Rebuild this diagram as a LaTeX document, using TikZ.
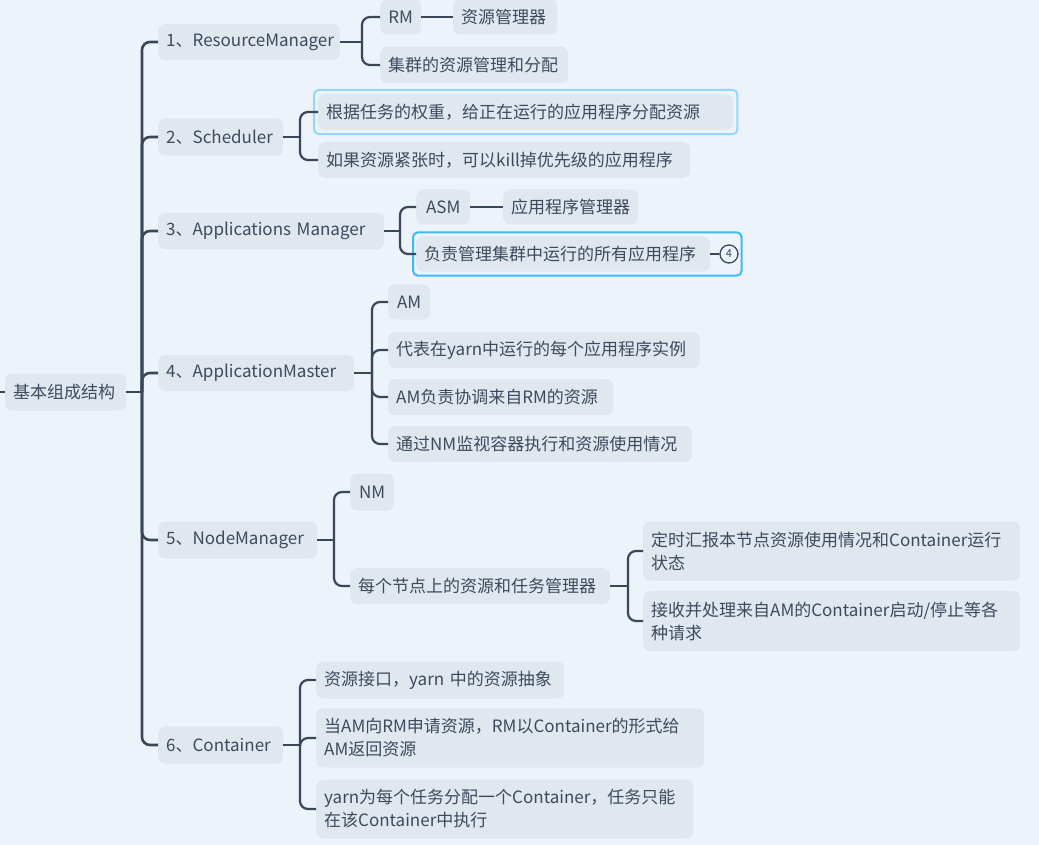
\documentclass[tikz,border=0pt]{standalone}
\usepackage{fontspec}
\setmainfont{Noto Sans CJK SC}
\usetikzlibrary{fit}
\definecolor{bg}{HTML}{EDF3FA}
\definecolor{nodefill}{HTML}{E1E7EF}
\definecolor{txt}{HTML}{3C4A5C}
\definecolor{ln}{HTML}{3A475A}
\definecolor{hlA}{HTML}{93D7FD}
\definecolor{hlB}{HTML}{3DBAF7}
\begin{document}
\begin{tikzpicture}[x=1pt,y=-1pt,
  box/.style={rectangle, rounded corners=7pt, fill=nodefill, text=txt, anchor=west,
    inner xsep=8pt, inner ysep=0pt, align=left, font=\fontsize{17}{23}\selectfont},
  conn/.style={draw=ln, line width=2.2pt, rounded corners=8pt},
  trunk/.style={draw=ln, line width=2.6pt, rounded corners=8pt},
  hl/.style={draw, rounded corners=5pt, line width=2pt, inner sep=0pt}]
\fill[bg] (0,0) rectangle (1039,845);
\useasboundingbox (0,0) rectangle (1039,845);

% root
\node[box, text width=105pt, minimum height=37pt] (root) at (5,392) {基本组成结构};
\coordinate (L) at (0,392);
\draw[conn] (L) -- (root.west);

% level 1
\node[box, text width=166pt, minimum height=36pt] (n1) at (158,42) {1、ResourceManager};
\node[box, text width=109pt, minimum height=37pt] (n2) at (158,137) {2、Scheduler};
\node[box, text width=210pt, minimum height=36pt] (n3) at (158,231) {3、Applications Manager};
\node[box, text width=180pt, minimum height=36pt] (n4) at (158,373) {4、ApplicationMaster};
\node[box, text width=143pt, minimum height=37pt] (n5) at (158,540) {5、NodeManager};
\node[box, text width=109pt, minimum height=37pt] (n6) at (158,745) {6、Container};

% level 2
\node[box, minimum width=41pt, minimum height=35pt] (n11) at (380,17) {RM};
\node[box, text width=88pt, minimum height=35pt] (n111) at (453,17) {资源管理器};
\node[box, text width=172pt, minimum height=36pt] (n12) at (380,65) {集群的资源管理和分配};

\node[box, text width=399pt, minimum height=36pt] (n21) at (318,112) {根据任务的权重，给正在运行的应用程序分配资源};
\node[box, text width=356pt, minimum height=36pt] (n22) at (318,160) {如果资源紧张时，可以kill掉优先级的应用程序};

\node[box, minimum width=54pt, minimum height=35pt] (n31) at (416,207) {ASM};
\node[box, text width=119pt, minimum height=35pt] (n311) at (503,207) {应用程序管理器};
\node[box, text width=278pt, minimum height=35pt] (n32) at (416,254) {负责管理集群中运行的所有应用程序};
\node[circle, draw=ln, line width=1.3pt, minimum size=18pt, inner sep=0pt, text=txt,
  font=\fontsize{11}{11}\selectfont] (c4) at (729,254) {4};

\node[box, minimum width=42pt, minimum height=35pt] (n41) at (388,302) {AM};
\node[box, text width=296pt, minimum height=36pt] (n42) at (388,350) {代表在yarn中运行的每个应用程序实例};
\node[box, text width=209pt, minimum height=36pt] (n43) at (388,397) {AM负责协调来自RM的资源};
\node[box, text width=288pt, minimum height=36pt] (n44) at (388,444) {通过NM监视容器执行和资源使用情况};

\node[box, minimum width=44pt, minimum height=37pt] (n51) at (350,492) {NM};
\node[box, text width=244pt, minimum height=36pt] (n52) at (350,586) {每个节点上的资源和任务管理器};
\node[box, text width=361pt, minimum height=59pt] (n521) at (643,551) {定时汇报本节点资源使用情况和Container运行\\状态};
\node[box, text width=361pt, minimum height=60pt] (n522) at (643,621) {接收并处理来自AM的Container启动/停止等各\\种请求};

\node[box, text width=232pt, minimum height=37pt] (n61) at (316,680) {资源接口，yarn 中的资源抽象};
\node[box, text width=372pt, minimum height=59pt] (n62) at (316,738) {当AM向RM申请资源，RM以Container的形式给\\AM返回资源};
\node[box, text width=361pt, minimum height=59pt] (n63) at (316,809) {yarn为每个任务分配一个Container，任务只能\\在该Container中执行};

% highlights
\node[hl, draw=hlA, fit=(n21), inner xsep=4pt, inner ysep=4pt] (h21) {};
\node[hl, draw=hlB, fit=(n32)(c4), inner xsep=3pt, inner ysep=4pt] (h32) {};

% fork coordinates
\coordinate (F0) at (142,0);
\coordinate (F1) at (362,0);
\coordinate (F2) at (300,0);
\coordinate (F3) at (400,0);
\coordinate (F4) at (372,0);
\coordinate (F5) at (334,0);
\coordinate (F52) at (628,0);
\coordinate (F6) at (300,0);

% trunk
\draw[trunk] (root.east) -- (root.east -| F0);
\foreach \c in {n1,n2,n3,n4,n5,n6}
  \draw[trunk] (root.east -| F0) |- (\c.west);

% branches
\draw[conn] (n1.east) -- (n1.east -| F1);
\foreach \c in {n11,n12} \draw[conn] (n1.east -| F1) |- (\c.west);
\draw[conn] (n2.east) -- (n2.east -| F2);
\foreach \c in {n21,n22} \draw[conn] (n2.east -| F2) |- (\c.west);
\draw[conn] (n3.east) -- (n3.east -| F3);
\foreach \c in {n31,n32} \draw[conn] (n3.east -| F3) |- (\c.west);
\draw[conn] (n4.east) -- (n4.east -| F4);
\foreach \c in {n41,n42,n43,n44} \draw[conn] (n4.east -| F4) |- (\c.west);
\draw[conn] (n5.east) -- (n5.east -| F5);
\foreach \c in {n51,n52} \draw[conn] (n5.east -| F5) |- (\c.west);
\draw[conn] (n52.east) -- (n52.east -| F52);
\foreach \c in {n521,n522} \draw[conn] (n52.east -| F52) |- (\c.west);
\draw[conn] (n6.east) -- (n6.east -| F6);
\foreach \c in {n61,n62,n63} \draw[conn] (n6.east -| F6) |- (\c.west);

\draw[conn] (n11.east) -- (n111.west);
\draw[conn] (n31.east) -- (n311.west);
\draw[draw=ln, line width=1.5pt] (n32.east) -- (c4.west);
\end{tikzpicture}
\end{document}
